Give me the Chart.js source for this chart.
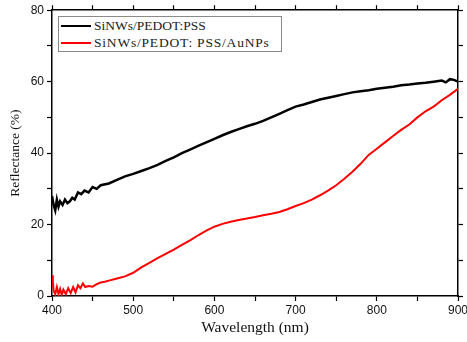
<!DOCTYPE html>
<html>
<head>
<meta charset="utf-8">
<script src="https://cdn.jsdelivr.net/npm/chart.js@4.4.1/dist/chart.umd.min.js"></script>
<style>
  html, body { margin: 0; padding: 0; background: #fff; }
  #wrap { position: relative; width: 467px; height: 342px; }
  #legend {
    position: absolute; left: 58px; top: 16px; width: 222px; height: 34px;
    border: 1px solid #8a8a8a; background: #fff;
    font-family: "Liberation Serif", "Times New Roman", serif; font-size: 13.5px; color: #222;
  }
  #legend .row { display: flex; align-items: center; height: 16px; margin-top: 1px; white-space: pre; }
  #legend .swatch { width: 30px; margin-left: 2px; margin-right: 3px; }
</style>
</head>
<body>
<div id="wrap">
  <canvas id="chart" width="467" height="342"></canvas>
  <div id="legend"></div>
</div>
<script>
// series 1: SiNWs/PEDOT:PSS
const wlBlack = [400, 402, 404, 406, 408, 410, 413, 416, 419, 422, 425, 428, 432, 436, 440, 445, 450, 455, 460, 470, 480, 490, 500, 510, 520, 530, 540, 550, 560, 570, 580, 590, 600, 610, 620, 630, 640, 650, 660, 670, 680, 690, 700, 710, 720, 730, 740, 750, 760, 770, 780, 790, 800, 810, 820, 830, 840, 850, 860, 870, 880, 885, 890, 895, 900];
const reflBlack = [28, 25.5, 24, 27, 25, 26.5, 25.5, 27, 26, 26.5, 27.5, 27, 29, 28.5, 29.5, 29, 30.5, 30, 31, 31.5, 32.5, 33.5, 34.2, 35, 35.8, 36.7, 37.8, 38.8, 40, 41, 42, 43, 44, 45, 45.9, 46.7, 47.5, 48.2, 49, 50, 51, 52, 53, 53.6, 54.3, 55, 55.5, 56, 56.5, 57, 57.3, 57.6, 58, 58.3, 58.6, 59, 59.2, 59.5, 59.7, 60, 60.3, 59.8, 60.7, 60.5, 60];

// series 2: SiNWs/PEDOT: PSS/AuNPs
const wlRed = [400, 401, 402, 404, 406, 408, 410, 412, 414, 417, 420, 423, 426, 429, 432, 435, 438, 441, 445, 450, 455, 460, 465, 470, 480, 490, 500, 510, 520, 530, 540, 550, 560, 570, 580, 590, 600, 610, 620, 630, 640, 650, 660, 670, 680, 690, 700, 710, 720, 730, 740, 750, 760, 770, 780, 790, 800, 810, 820, 830, 840, 850, 860, 870, 880, 890, 900];
const reflRed = [5.8, 4, 1.5, 0.5, 2.5, 0.5, 2, 0.3, 1.8, 0.5, 2.2, 0.8, 2.5, 1, 3, 2.2, 3.5, 2.5, 2.8, 2.6, 3.3, 3.8, 4, 4.3, 4.9, 5.5, 6.5, 8, 9.3, 10.6, 11.8, 13, 14.3, 15.6, 17, 18.3, 19.4, 20.2, 20.8, 21.3, 21.7, 22.1, 22.6, 23, 23.5, 24.3, 25.2, 26, 27, 28.2, 29.5, 31, 32.8, 34.8, 37, 39.5, 41.2, 43, 44.8, 46.5, 48, 50, 51.7, 53, 54.8, 56.3, 58];

const seriesLabels = ['SiNWs/PEDOT:PSS', 'SiNWs/PEDOT: PSS/AuNPs'];
const xTickLabels = [400, 500, 600, 700, 800, 900];
const yTickLabels = [0, 20, 40, 60, 80];

const toPoints = (xs, ys) => xs.map((x, i) => ({ x: x, y: ys[i] }));

const tickFont = { family: '"Liberation Sans", Arial, sans-serif', size: 12 };

const ctx = document.getElementById('chart').getContext('2d');
const chart = new Chart(ctx, {
    type: 'line',
    data: {
        datasets: [{
            label: seriesLabels[0],
            data: toPoints(wlBlack, reflBlack),
            borderColor: '#000',
            borderWidth: 2.5,
            pointRadius: 0,
            tension: 0
        }, {
            label: seriesLabels[1],
            data: toPoints(wlRed, reflRed),
            borderColor: '#ff0000',
            borderWidth: 2,
            pointRadius: 0,
            tension: 0
        }]
    },
    options: {
        responsive: false,
        animation: false,
        layout: { padding: { left: 0, right: 9, top: 9, bottom: 0 } },
        plugins: { legend: { display: false }, tooltip: { enabled: false } },
        scales: {
            x: {
                type: 'linear', position: 'bottom', min: 400, max: 900,
                afterFit: (s) => { s.height = 46; s.paddingLeft = 0; s.paddingRight = 0; },
                border: { color: '#000', width: 1.5 },
                grid: { drawOnChartArea: false, tickLength: 5, tickColor: '#000', tickWidth: 1.2 },
                ticks: {
                    stepSize: 50, autoSkip: false, maxRotation: 0, padding: 2, color: '#111', font: tickFont,
                    callback: (v) => xTickLabels.includes(v) ? String(v) : ''
                },
                title: {
                    display: true, text: 'Wavelength (nm)', color: '#111', padding: { top: 0, bottom: 5 },
                    font: { family: '"Liberation Serif", "Times New Roman", serif', size: 15.5 }
                }
            },
            x2: {
                type: 'linear', axis: 'x', position: 'top', min: 400, max: 900,
                afterFit: (s) => { s.height = 0; s.paddingLeft = 0; s.paddingRight = 0; },
                border: { color: '#000', width: 1.5 },
                grid: { drawOnChartArea: false, tickLength: 5, tickColor: '#000', tickWidth: 1.2 },
                ticks: { stepSize: 50, autoSkip: false, display: true, callback: () => '' }
            },
            y: {
                type: 'linear', position: 'left', min: 0, max: 80,
                afterFit: (s) => { s.width = 52; },
                border: { color: '#000', width: 1.5 },
                grid: { drawOnChartArea: false, tickLength: 5, tickColor: '#000', tickWidth: 1.2 },
                ticks: {
                    stepSize: 10, autoSkip: false, padding: 3, color: '#111', font: tickFont,
                    callback: (v) => yTickLabels.includes(v) ? String(v) : ''
                },
                title: {
                    display: true, text: 'Reflectance (%)', color: '#111', padding: { top: 7, bottom: 0 },
                    font: { family: '"Liberation Serif", "Times New Roman", serif', size: 13.5 }
                }
            },
            y2: {
                type: 'linear', axis: 'y', position: 'right', min: 0, max: 80,
                afterFit: (s) => { s.width = 0; },
                border: { color: '#000', width: 1.5 },
                grid: { drawOnChartArea: false, tickLength: 5, tickColor: '#000', tickWidth: 1.2 },
                ticks: { stepSize: 10, autoSkip: false, callback: () => '' }
            }
        }
    }
});

// legend box inside the plot
const legendSpacing = ['0px', '0.8px'];
const legendDiv = document.getElementById('legend');
chart.data.datasets.forEach((ds, i) => {
    const row = document.createElement('div');
    row.className = 'row';
    const sw = document.createElement('div');
    sw.className = 'swatch';
    sw.style.borderTop = ds.borderWidth + 'px solid ' + ds.borderColor;
    const txt = document.createElement('span');
    txt.textContent = ds.label;
    txt.style.letterSpacing = legendSpacing[i];
    row.appendChild(sw);
    row.appendChild(txt);
    legendDiv.appendChild(row);
});
</script>
</body>
</html>
